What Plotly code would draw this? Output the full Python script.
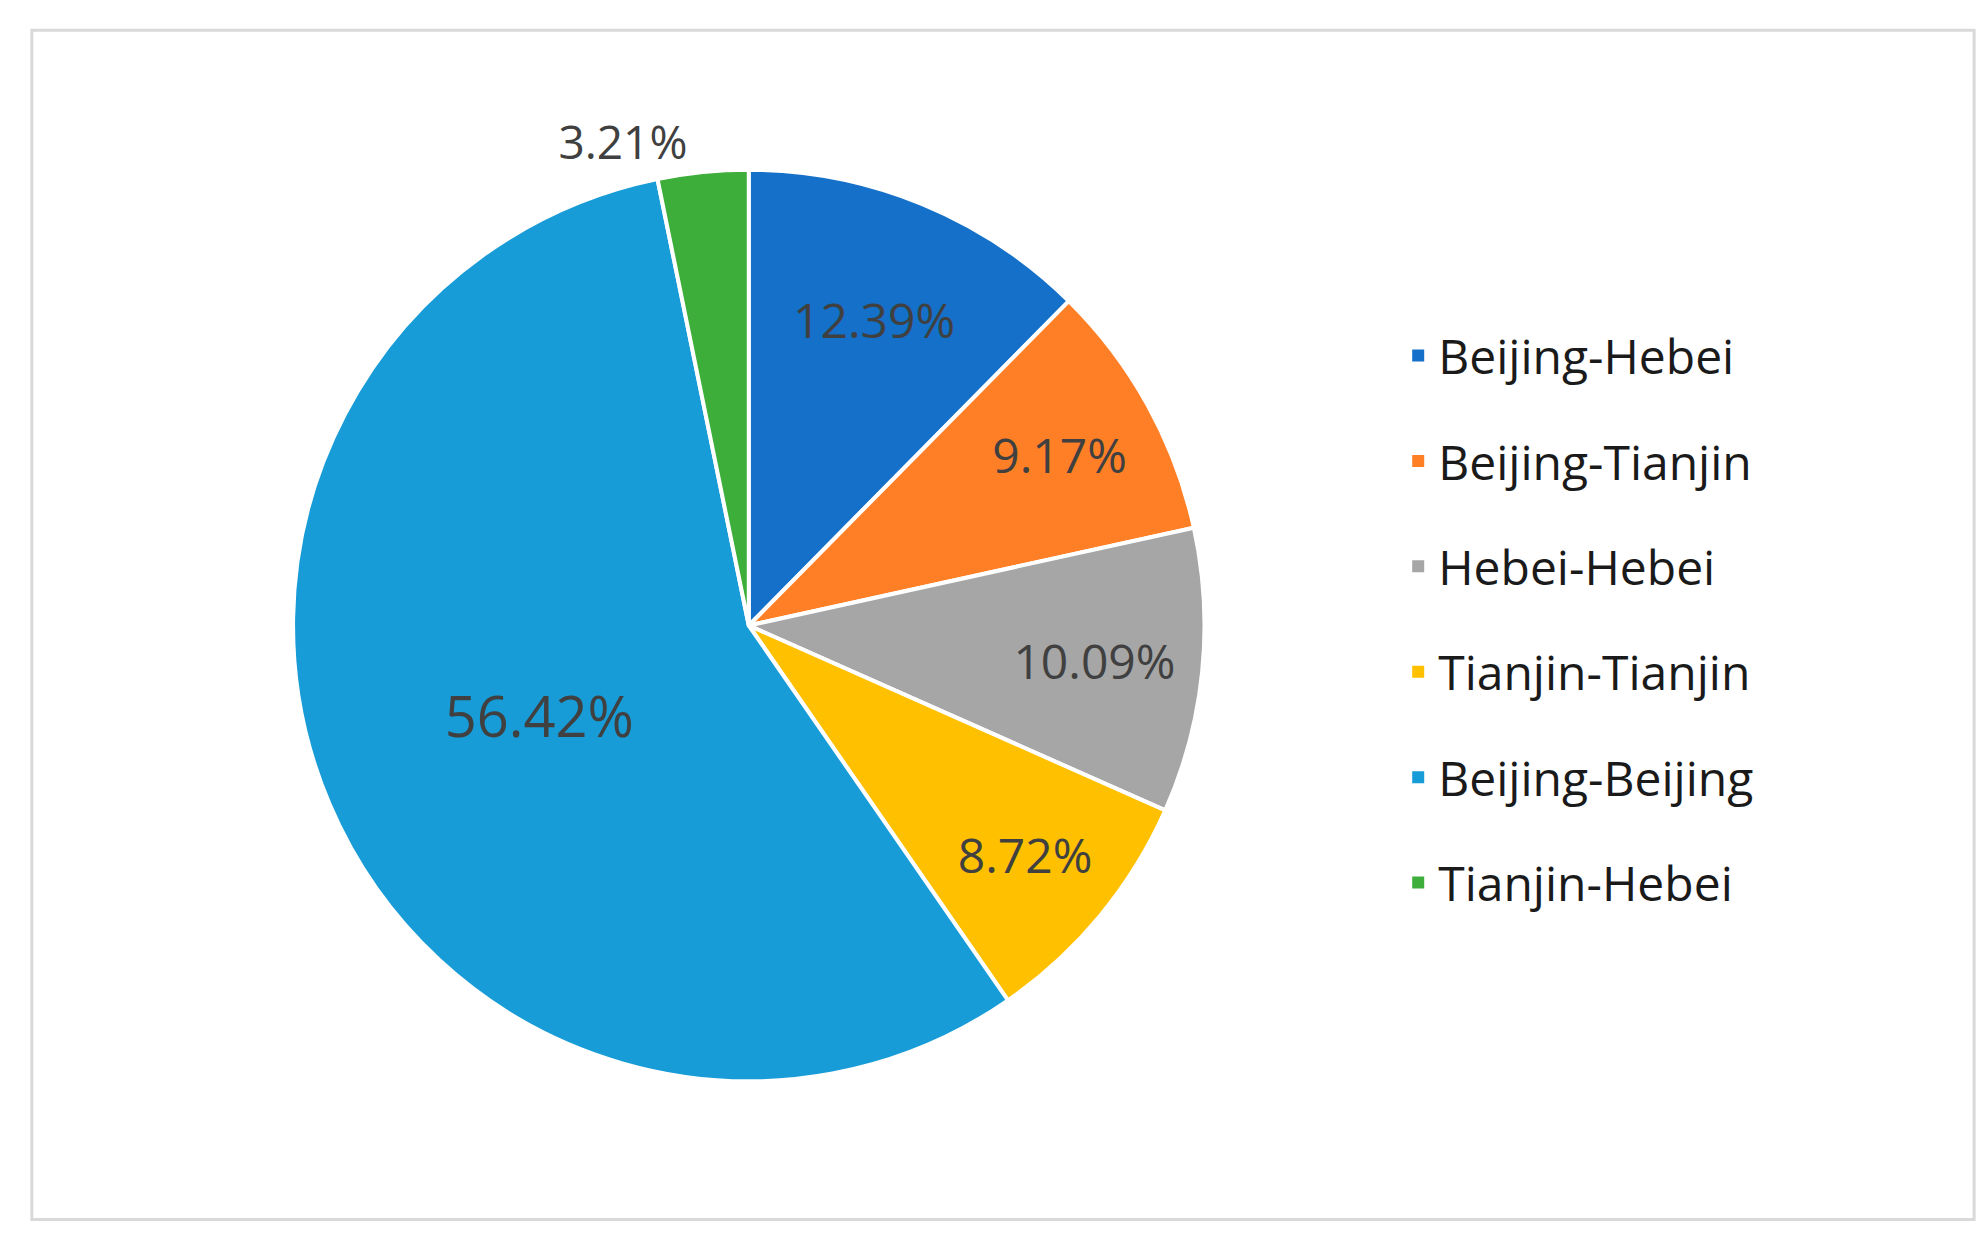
import plotly.graph_objects as go

labels = ["Beijing-Hebei", "Beijing-Tianjin", "Hebei-Hebei", "Tianjin-Tianjin", "Beijing-Beijing", "Tianjin-Hebei"]
values = [12.39, 9.17, 10.09, 8.72, 56.42, 3.21]
colors = ["#1470C8", "#FF7F27", "#A6A6A6", "#FFC000", "#179CD7", "#3DAE3A"]
text_labels = [f"{v:.2f}%" for v in values]

fig = go.Figure()
fig.add_trace(go.Pie(
    labels=labels, values=values, sort=False, direction="clockwise", rotation=0,
    marker=dict(colors=colors, line=dict(color="white", width=4)),
    text=text_labels, textinfo="text",
    textposition=["inside"] * 5 + ["outside"],
    insidetextorientation="horizontal",
    textfont=dict(family="Open Sans", size=[48, 48, 48, 48, 56, 46], color="#404040"),
    outsidetextfont=dict(family="Open Sans", size=46, color="#404040"),
    showlegend=False,
    domain=dict(x=[0.143, 0.603], y=[0.131, 0.869]),
))
for lab, col in zip(labels, colors):
    fig.add_trace(go.Scatter(x=[None], y=[None], mode="markers", name=lab, legendgroup=lab,
                             marker=dict(symbol="square", size=20, color=col)))

fig.add_shape(type="rect", xref="paper", yref="paper", x0=0.012, y0=0.019, x1=0.99, y1=0.982,
              line=dict(color="#D9D9D9", width=3))
fig.update_layout(
    width=1986, height=1235, margin=dict(l=0, r=0, t=0, b=0),
    paper_bgcolor="white", plot_bgcolor="white",
    xaxis=dict(visible=False), yaxis=dict(visible=False),
    legend=dict(x=0.7, y=0.505, xanchor="left", yanchor="middle", tracegroupgap=40,
                font=dict(family="Open Sans", size=48, color="#1a1a1a"), itemsizing="constant"),
)
fig.write_html("out.html")
